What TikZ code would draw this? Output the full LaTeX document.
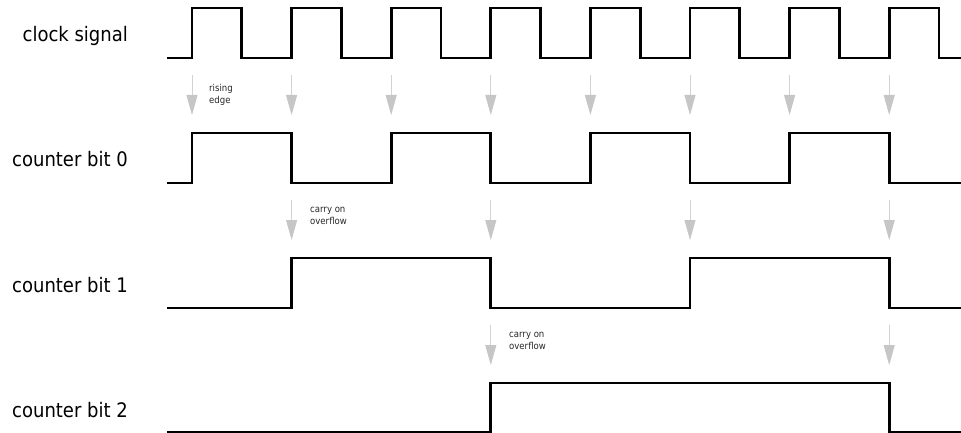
\documentclass[tikz,border=0pt]{standalone}
\usepackage{fontspec}
\setmainfont{DejaVu Sans Condensed}
\usetikzlibrary{arrows.meta}
\tikzset{
  sig/.style={line width=2.8pt, line join=miter, black},
  edgearrow/.style={draw=gray!35, line width=0.9pt, -{Triangle[width=11pt,length=20pt,color=gray!45,fill=gray!45]}},
  siglabel/.style={anchor=base east, font=\fontsize{20}{24}\selectfont, inner sep=0pt},
  note/.style={anchor=north west, align=left, font=\fontsize{9.5}{12}\selectfont, inner sep=0pt, text=black!85}
}
\begin{document}
\begin{tikzpicture}[x=1pt,y=-1pt]
\useasboundingbox (0,0) rectangle (961,433);
% labels
\node[siglabel] (lclk) at (128,42) {clock signal};
\node[siglabel] (lb0) at (128,167) {counter bit 0};
\node[siglabel] (lb1) at (128,292) {counter bit 1};
\node[siglabel] (lb2) at (128,417) {counter bit 2};
% clock
\draw[sig] (167,58) foreach \k in {0,...,7}{ -- (192+99.6*\k,58) -- ++(0,-50) -- ++(49.8,0) -- ++(0,50)} -- (961,58);
% bit 0
\draw[sig] (167,183) foreach \k in {0,...,3}{ -- (192+199.2*\k,183) -- ++(0,-50) -- ++(99.6,0) -- ++(0,50)} -- (961,183);
% bit 1
\draw[sig] (167,308) -- (291.6,308) -- (291.6,258) -- (490.8,258) -- (490.8,308) -- (690,308) -- (690,258) -- (889.2,258) -- (889.2,308) -- (961,308);
% bit 2
\draw[sig] (167,432) -- (490.8,432) -- (490.8,383) -- (889.2,383) -- (889.2,432) -- (961,432);
% arrows row 1
\foreach \k in {0,...,7}{
  \coordinate (a\k) at (192+99.6*\k,75);
  \coordinate (b\k) at (192+99.6*\k,115);
  \draw[edgearrow] (a\k) -- (b\k);
}
% arrows row 2
\foreach \k in {0,...,3}{
  \coordinate (c\k) at (291.6+199.2*\k,200);
  \coordinate (d\k) at (291.6+199.2*\k,240);
  \draw[edgearrow] (c\k) -- (d\k);
}
% arrows row 3
\foreach \k/\x in {0/490.8,1/889.2}{
  \coordinate (e\k) at (\x,325);
  \coordinate (f\k) at (\x,365);
  \draw[edgearrow] (e\k) -- (f\k);
}
% notes
\node[note] (n1) at (209,84) {rising\\edge};
\node[note] (n2) at (310,207) {carry on\\overflow};
\node[note] (n3) at (509,332) {carry on\\overflow};
\end{tikzpicture}
\end{document}
